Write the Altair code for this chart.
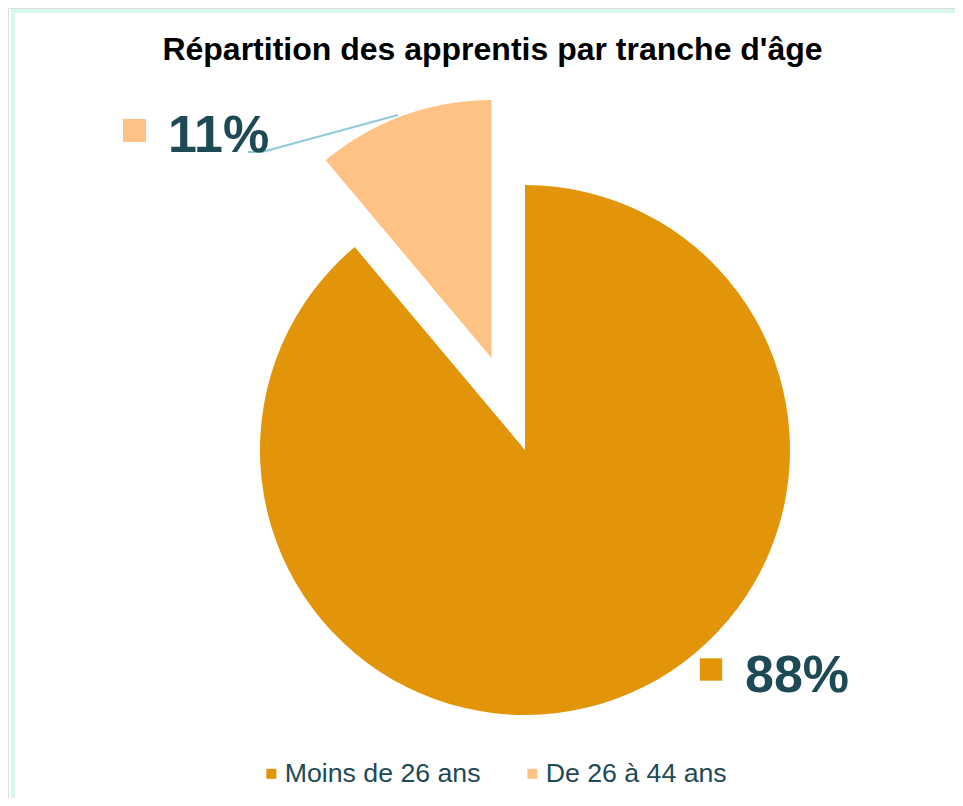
import altair as alt
import pandas as pd

# ---- data ----
categories = ["Moins de 26 ans", "De 26 à 44 ans"]
values = [88, 11]
labels = ["88%", "11%"]
colors = ["#e3950a", "#ffc285"]
order = [0, 1]

title_text = "Répartition des apprentis par tranche d'âge"

df = pd.DataFrame({"cat": categories, "val": values, "label": labels, "order": order})

W, H = 947, 790
TEXT_COL = "#1e4a55"
FONT = "Liberation Sans"

base = alt.Chart(df)

color = alt.Color(
    "cat:N",
    scale=alt.Scale(domain=categories, range=colors),
    sort=categories,
    legend=alt.Legend(
        orient="none", legendX=250, legendY=752, direction="horizontal",
        symbolType="square", symbolSize=100, symbolStrokeWidth=0,
        labelFontSize=26.7, labelFont=FONT, labelColor=TEXT_COL,
        columnPadding=38, labelOffset=0, title=None, padding=0, labelLimit=500,
    ),
)

arcs = (
    base.transform_joinaggregate(total="sum(val)")
    .transform_window(cum="sum(val)", sort=[alt.SortField("order")], frame=[None, 0])
    .transform_calculate(
        t0="2*PI*(datum.cum-datum.val)/datum.total",
        t1="2*PI*datum.cum/datum.total",
    )
)

enc = dict(theta=alt.Theta("t0:Q", scale=None), theta2="t1:Q", color=color)

big = arcs.transform_filter(alt.datum.order == 0).mark_arc(x=517, y=442, radius=265).encode(**enc)
small = arcs.transform_filter(alt.datum.order == 1).mark_arc(x=483.5, y=350, radius=258).encode(**enc)

txt_small = base.transform_filter(alt.datum.order == 1).mark_text(
    align="left", baseline="alphabetic", font=FONT, fontSize=52, fontWeight="bold", color=TEXT_COL
).encode(text="label:N", x=alt.value(160), y=alt.value(144))
txt_big = base.transform_filter(alt.datum.order == 0).mark_text(
    align="left", baseline="alphabetic", font=FONT, fontSize=52, fontWeight="bold", color=TEXT_COL
).encode(text="label:N", x=alt.value(737), y=alt.value(684))

sq_small = base.transform_filter(alt.datum.order == 1).mark_square(size=529, opacity=1).encode(
    x=alt.value(126.5), y=alt.value(122.5), color=color)
sq_big = base.transform_filter(alt.datum.order == 0).mark_square(size=500, opacity=1).encode(
    x=alt.value(703), y=alt.value(661.5), color=color)

leader1 = base.transform_filter(alt.datum.order == 1).mark_rule(color="#8fcbd9", strokeWidth=2).encode(
    x=alt.value(240), y=alt.value(144), x2=alt.value(254), y2=alt.value(144))
leader2 = base.transform_filter(alt.datum.order == 1).mark_rule(color="#8fcbd9", strokeWidth=2).encode(
    x=alt.value(254), y=alt.value(144), x2=alt.value(390), y2=alt.value(107))

title = base.transform_filter(alt.datum.order == 0).mark_text(
    align="center", baseline="alphabetic", font=FONT, fontSize=32, fontWeight="bold", color="#000000"
).encode(text=alt.value(title_text), x=alt.value(484.5), y=alt.value(52))

border_left = base.transform_filter(alt.datum.order == 0).mark_rule(color="#d7f7ee", strokeWidth=4).encode(
    x=alt.value(5), y=alt.value(1), y2=alt.value(H))
border_top = base.transform_filter(alt.datum.order == 0).mark_rule(color="#d7f7ee", strokeWidth=4).encode(
    x=alt.value(3), x2=alt.value(W), y=alt.value(3))

chart = alt.layer(
    border_left, border_top, big, small, leader1, leader2, sq_small, sq_big, txt_small, txt_big, title
).properties(
    width=W, height=H, autosize=alt.AutoSizeParams(type="none"), padding=0
).configure_view(stroke=None).configure(background="white")

chart.save("out.html", embed_options={"renderer": "svg", "actions": False})
